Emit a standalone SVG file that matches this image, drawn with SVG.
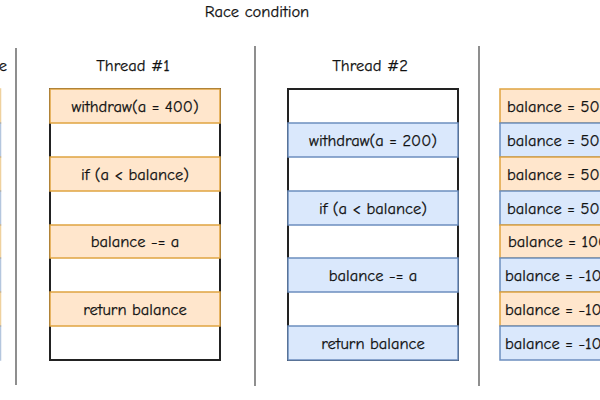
<svg xmlns="http://www.w3.org/2000/svg" width="600" height="400" viewBox="0 0 600 400">
<style>
text{font-family:"Comic Neue","Liberation Sans","DejaVu Sans",sans-serif;font-size:16.5px;fill:#111;stroke:#111;stroke-width:0.25;}
.c{text-anchor:middle;dominant-baseline:central;}
.o{fill:#ffe6cc;stroke:#e0a440;stroke-width:1.5;}
.b{fill:#dae8fc;stroke:#6c8ebf;stroke-width:1.5;}
.w{fill:#fff;stroke:#222;stroke-width:2;}
.sep{stroke:#444;stroke-width:1.2;}
</style>
<rect width="600" height="400" fill="#fff"/>
<text x="257" y="11" class="c">Race condition</text>
<g id="separators">
<line class="sep" x1="16" y1="48" x2="16" y2="385"/>
<line class="sep" x1="255" y1="46" x2="255" y2="386"/>
<line class="sep" x1="479" y1="46" x2="479" y2="386"/>
</g>
<g id="left-col">
<text x="3" y="65" class="c">e</text>
<rect class="o" x="-100" y="89" width="100.5" height="34" opacity="0.5"/>
<rect class="b" x="-100" y="123" width="100.5" height="34" opacity="0.5"/>
<rect class="o" x="-100" y="157" width="100.5" height="34" opacity="0.5"/>
<rect class="b" x="-100" y="191" width="100.5" height="34" opacity="0.5"/>
<rect class="o" x="-100" y="225" width="100.5" height="33" opacity="0.5"/>
<rect class="b" x="-100" y="258" width="100.5" height="34" opacity="0.5"/>
<rect class="o" x="-100" y="292" width="100.5" height="34" opacity="0.5"/>
<rect class="b" x="-100" y="326" width="100.5" height="34" opacity="0.5"/>
</g>
<g id="thread1">
<text x="133" y="65" class="c">Thread #1</text>
<rect class="w" x="50" y="89" width="170" height="271"/>
<g id="t1-withdraw"><rect class="o" x="50" y="89" width="170" height="34"/><text x="135" y="106" class="c">withdraw(a = 400)</text></g>
<g id="t1-if"><rect class="o" x="50" y="157" width="170" height="34"/><text x="135" y="174" class="c">if (a &lt; balance)</text></g>
<g id="t1-sub"><rect class="o" x="50" y="225" width="170" height="33"/><text x="135" y="241.5" class="c">balance -= a</text></g>
<g id="t1-ret"><rect class="o" x="50" y="292" width="170" height="34"/><text x="135" y="309" class="c">return balance</text></g>
</g>
<g id="thread2">
<text x="370" y="65" class="c">Thread #2</text>
<rect class="w" x="288" y="89" width="170" height="271"/>
<g id="t2-withdraw"><rect class="b" x="288" y="123" width="170" height="34"/><text x="373" y="140" class="c">withdraw(a = 200)</text></g>
<g id="t2-if"><rect class="b" x="288" y="191" width="170" height="34"/><text x="373" y="208" class="c">if (a &lt; balance)</text></g>
<g id="t2-sub"><rect class="b" x="288" y="258" width="170" height="34"/><text x="373" y="275" class="c">balance -= a</text></g>
<g id="t2-ret"><rect class="b" x="288" y="326" width="170" height="34"/><text x="373" y="343" class="c">return balance</text></g>
</g>
<g id="balance-col">
<g><rect class="o" x="500" y="89" width="170" height="34"/><text x="507" y="106" dominant-baseline="central">balance = 500</text></g>
<g><rect class="b" x="500" y="123" width="170" height="34"/><text x="507" y="140" dominant-baseline="central">balance = 500</text></g>
<g><rect class="o" x="500" y="157" width="170" height="34"/><text x="507" y="174" dominant-baseline="central">balance = 500</text></g>
<g><rect class="b" x="500" y="191" width="170" height="34"/><text x="507" y="208" dominant-baseline="central">balance = 500</text></g>
<g><rect class="o" x="500" y="225" width="170" height="33"/><text x="508" y="241.5" dominant-baseline="central">balance = 100</text></g>
<g><rect class="b" x="500" y="258" width="170" height="34"/><text x="505" y="275" dominant-baseline="central">balance = -100</text></g>
<g><rect class="o" x="500" y="292" width="170" height="34"/><text x="505" y="309" dominant-baseline="central">balance = -100</text></g>
<g><rect class="b" x="500" y="326" width="170" height="34"/><text x="505" y="343" dominant-baseline="central">balance = -100</text></g>
</g>
</svg>
